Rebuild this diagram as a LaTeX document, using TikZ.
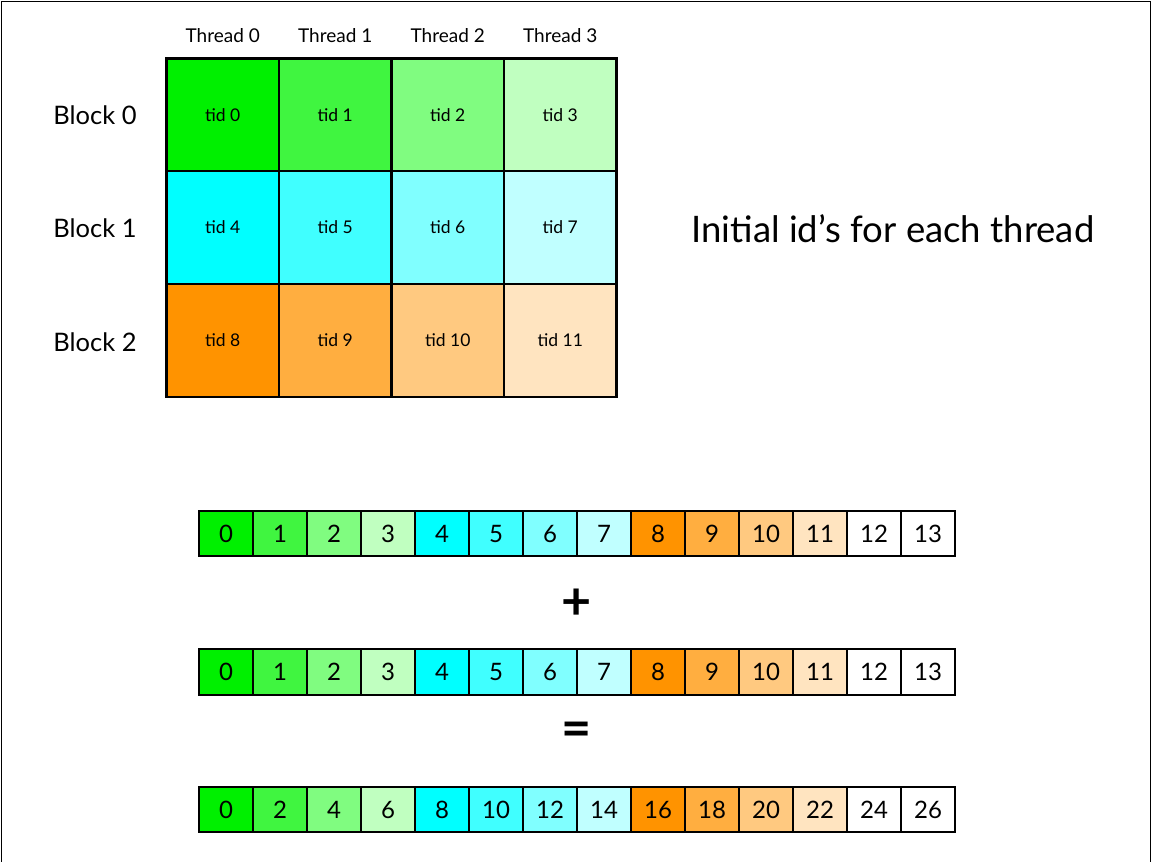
\documentclass[tikz,border=0pt]{standalone}
\usepackage{fontspec}
\setmainfont{Lato}
% shades: greens, cyans, oranges, then plain white
\definecolor{shade0}{RGB}{0,240,0}
\definecolor{shade1}{RGB}{64,245,64}
\definecolor{shade2}{RGB}{128,252,128}
\definecolor{shade3}{RGB}{192,255,192}
\definecolor{shade4}{RGB}{0,255,255}
\definecolor{shade5}{RGB}{64,255,255}
\definecolor{shade6}{RGB}{128,255,255}
\definecolor{shade7}{RGB}{192,255,255}
\definecolor{shade8}{RGB}{255,147,0}
\definecolor{shade9}{RGB}{255,174,64}
\definecolor{shade10}{RGB}{255,201,128}
\definecolor{shade11}{RGB}{255,228,192}
\definecolor{shade12}{RGB}{255,255,255}
\definecolor{shade13}{RGB}{255,255,255}
\begin{document}
\begin{tikzpicture}[x=1pt,y=-1pt,
  gridcell/.style={draw=black, line width=2.2pt, minimum width=112.5pt,
    minimum height=112.7pt, inner sep=0pt, font=\fontsize{17.5}{20}\selectfont},
  arrcell/.style={draw=black, line width=2.2pt, minimum width=54pt,
    minimum height=45pt, inner sep=0pt, font=\fontsize{24}{28}\selectfont},
  collabel/.style={font=\fontsize{19}{22}\selectfont, inner sep=0pt},
  rowlabel/.style={font=\fontsize{25.5}{30}\selectfont, inner sep=0pt},
  oplabel/.style={font=\fontsize{52}{56}\selectfont\bfseries, inner sep=0pt}]
\useasboundingbox (0,0) rectangle (1152,862);
% page frame
\draw[line width=1.5pt] (1.5,862) -- (1.5,1.5) -- (1150.5,1.5) -- (1150.5,862);

% thread grid
\foreach \c in {0,...,3}
  \node[collabel] (thread\c) at ({222.75+112.5*\c},36) {Thread \c};
\foreach \r in {0,1,2} {
  \node[rowlabel] (block\r) at (95,{115+113.5*\r}) {Block \r};
  \foreach \c in {0,...,3} {
    \pgfmathtruncatemacro{\k}{4*\r+\c}
    \node[gridcell, fill=shade\k] (tid\k) at ({222.75+112.5*\c},{114.85+112.7*\r}) {tid \k};
  }
}
\node[font=\fontsize{36.5}{42}\selectfont, inner sep=0pt] (title) at (893,229)
  {Initial id’s for each thread};

% vectors
\foreach \k in {0,...,13} {
  \pgfmathtruncatemacro{\d}{2*\k}
  \node[arrcell, fill=shade\k] (a\k) at ({226+54*\k},533.5) {\k};
  \node[arrcell, fill=shade\k, minimum height=46pt] (b\k) at ({226+54*\k},672) {\k};
  \node[arrcell, fill=shade\k] (s\k) at ({226+54*\k},809.5) {\d};
}
\node[oplabel] (plus) at (577,604) {+};
\node[oplabel] (equals) at (577,734) {=};
\end{tikzpicture}
\end{document}
